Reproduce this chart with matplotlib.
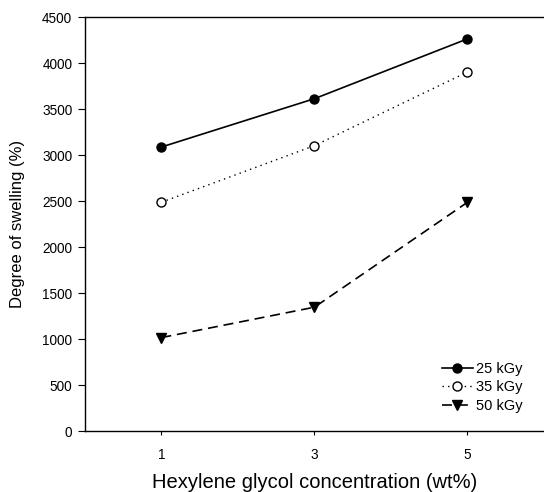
import matplotlib
matplotlib.use("Agg")
import matplotlib.pyplot as plt

plt.rcParams['font.family'] = ['Liberation Sans', 'DejaVu Sans']

# hexylene glycol concentration (wt%)
conc = [1, 3, 5]

# degree of swelling (%) for each irradiation dose
swell_25 = [3090, 3615, 4265]
swell_35 = [2490, 3105, 3905]
swell_50 = [1020, 1350, 2490]

fig = plt.figure(figsize=(5.44, 4.92), dpi=100)
ax = fig.add_axes([0.156, 0.123, 0.844, 0.842])

ax.plot(conc, swell_25, color='black', linestyle='-', linewidth=1.2,
        marker='o', markersize=6.5, markerfacecolor='black', label='25 kGy')
ax.plot(conc, swell_35, color='black', linestyle=(0, (1, 3)), linewidth=1.0,
        marker='o', markersize=6.5, markerfacecolor='white', label='35 kGy')
ax.plot(conc, swell_50, color='black', linestyle=(0, (6, 3.5)), linewidth=1.2,
        marker='v', markersize=7, markerfacecolor='black', label='50 kGy')

ax.set_xlim(0, 6)
ax.set_ylim(0, 4500)
ax.set_xticks(conc)
ax.set_yticks(range(0, 4501, 500))
ax.tick_params(axis='y', direction='out', length=5, width=0.8, labelsize=9.8, pad=4)
ax.tick_params(axis='x', direction='out', length=3, width=0.8, labelsize=9.8, pad=9)
ax.spines['right'].set_visible(False)
for s in ['left', 'bottom', 'top']:
    ax.spines[s].set_linewidth(1.0)

ax.set_xlabel('Hexylene glycol concentration (wt%)', fontsize=14.5, labelpad=8)
ax.set_ylabel('Degree of swelling (%)', fontsize=12, labelpad=12)

ax.legend(loc='lower right', frameon=False, fontsize=10.5, handlelength=2.1,
          handletextpad=0.25, labelspacing=0.3, borderaxespad=0,
          bbox_to_anchor=(0.967, 0.031))

fig.savefig('out.png', dpi=100)
